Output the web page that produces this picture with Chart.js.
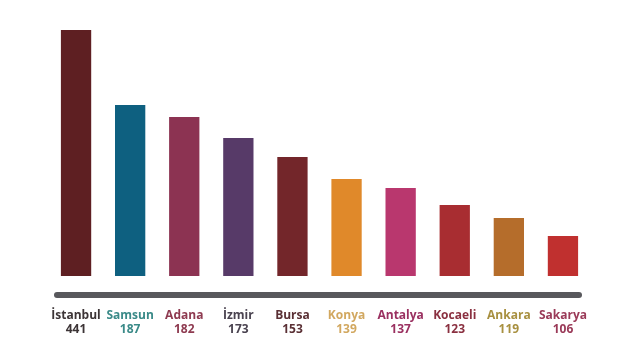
<!DOCTYPE html>
<html>
<head>
<meta charset="utf-8">
<script src="https://cdn.jsdelivr.net/npm/chart.js@4.4.1/dist/chart.umd.min.js"></script>
<style>
  html, body { margin: 0; padding: 0; background: #fff; }
  #wrap { width: 619px; height: 351px; }
</style>
</head>
<body>
<div id="wrap"><canvas id="chart"></canvas></div>
<script>
// şehirler ve değerler
const cities = ["İstanbul", "Samsun", "Adana", "İzmir", "Bursa", "Konya", "Antalya", "Kocaeli", "Ankara", "Sakarya"];
const values = [441, 187, 182, 173, 153, 139, 137, 123, 119, 106];
// bar yükseklikleri resimde ölçeksiz çizilmiş, bu yüzden ayrı tutuluyor
const barHeights = [246, 171, 159, 138, 119, 97, 88, 71, 58, 40];
const barColors = ["#5e1f22", "#0e6080", "#8c3352", "#573a68", "#73262a", "#e0892a", "#b9376e", "#a82d31", "#b56d2b", "#c0302f"];
const textColors = ["#3c3436", "#3a8a88", "#8e3a50", "#4a4350", "#5a3035", "#d2a860", "#9a3060", "#8a3040", "#a89040", "#9a3a58"];

// alt taraftaki kalın gri çizgi
const baseLinePlugin = {
    id: 'baseLine',
    afterDraw(chart) {
        const ctx = chart.ctx;
        const area = chart.chartArea;
        ctx.save();
        ctx.strokeStyle = '#58585c';
        ctx.lineWidth = 6;
        ctx.lineCap = 'round';
        ctx.beginPath();
        ctx.moveTo(area.left + 8, area.bottom + 19);
        ctx.lineTo(area.right - 11, area.bottom + 19);
        ctx.stroke();
        ctx.restore();
    }
};

new Chart(document.getElementById('chart'), {
    type: 'bar',
    data: {
        labels: cities.map((c, i) => [c, String(values[i])]),
        datasets: [{
            data: barHeights,
            backgroundColor: barColors,
            borderWidth: 0,
            barPercentage: 0.56,
            categoryPercentage: 1
        }]
    },
    options: {
        responsive: true,
        maintainAspectRatio: false,
        animation: false,
        layout: { padding: { left: 49, right: 29, top: 26, bottom: 14 } },
        plugins: {
            legend: { display: false },
            tooltip: { enabled: false }
        },
        scales: {
            x: {
                grid: { display: false },
                border: { display: false },
                afterFit: axis => { axis.height = 61; },
                ticks: {
                    autoSkip: false,
                    maxRotation: 0,
                    padding: 24,
                    color: ctx => textColors[ctx.index],
                    font: { family: 'Open Sans', size: 12, weight: 'bold', lineHeight: 1.2 }
                }
            },
            y: {
                display: false,
                min: 0,
                max: 250
            }
        }
    },
    plugins: [baseLinePlugin]
});
</script>
</body>
</html>
